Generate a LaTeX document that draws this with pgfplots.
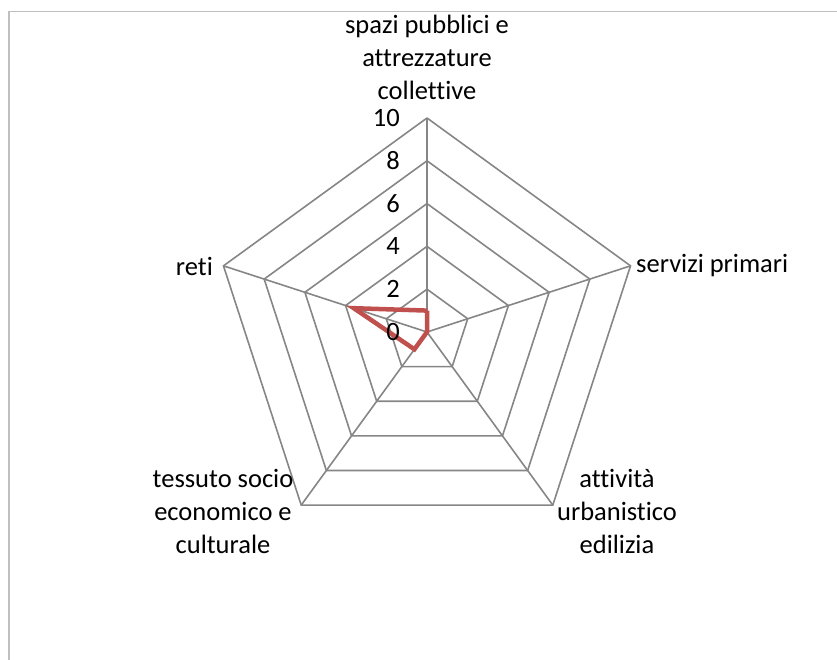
\documentclass[border=0pt]{standalone}
\usepackage{pgfplots}
\pgfplotsset{compat=1.18}
\usepackage{fontspec}
\setmainfont{Carlito}[Ligatures={NoCommon}]
\definecolor{gridgray}{HTML}{868686}
\definecolor{framegray}{HTML}{BFBFBF}
\definecolor{rred}{HTML}{C0504D}

\begin{document}
\begin{tikzpicture}[x=1pt,y=1pt,font=\fontsize{26.5}{33}\selectfont]
\path[use as bounding box] (0,0) rectangle (837,660);
\draw[framegray, line width=1.6pt] (9,-5) -- (9,648.5) -- (845,648.5);

\begin{axis}[
    x=21.4pt, y=21.4pt,
    anchor=origin, at={(427pt,328pt)},
    xmin=-10, xmax=10, ymin=-10, ymax=10,
    hide axis, clip=false,
    data cs=polar,
  ]
  % spokes
  \foreach \a in {90,18,-54,-126,162} {
    \edef\tmp{\noexpand\addplot[gridgray, line width=1.6pt, data cs=polar] coordinates {(\a,0) (\a,10)};}
    \tmp
  }
  % rings
  \foreach \r in {2,4,6,8,10} {
    \edef\tmp{\noexpand\addplot[gridgray, line width=1.6pt, data cs=polar] coordinates {(90,\r) (18,\r) (-54,\r) (-126,\r) (162,\r) (90,\r)};}
    \tmp
  }
  % data: spazi, servizi, attivita, tessuto, reti
  \addplot[rred, line width=4.5pt, line join=miter, data cs=polar]
    coordinates {(90,1) (18,0) (-54,0) (-126,1) (162,3.6) (90,1)};
\end{axis}

% radial tick labels
\foreach \v in {0,2,4,6,8,10} {
  \node[anchor=east, inner sep=0pt] at (400, 328+21.4*\v) {\v};
}

% category labels
\node[align=center, inner sep=0pt] at (427, 603) {spazi pubblici e\\attrezzature\\collettive};
\node[anchor=west, inner sep=0pt] at (636, 394) {servizi primari};
\node[anchor=east, inner sep=0pt] at (213, 394) {reti};
\node[align=center, inner sep=0pt] at (617, 149) {attività\\urbanistico\\edilizia};
\node[align=center, inner sep=0pt] at (223, 149) {tessuto socio\\economico e\\culturale};
\end{tikzpicture}
\end{document}
